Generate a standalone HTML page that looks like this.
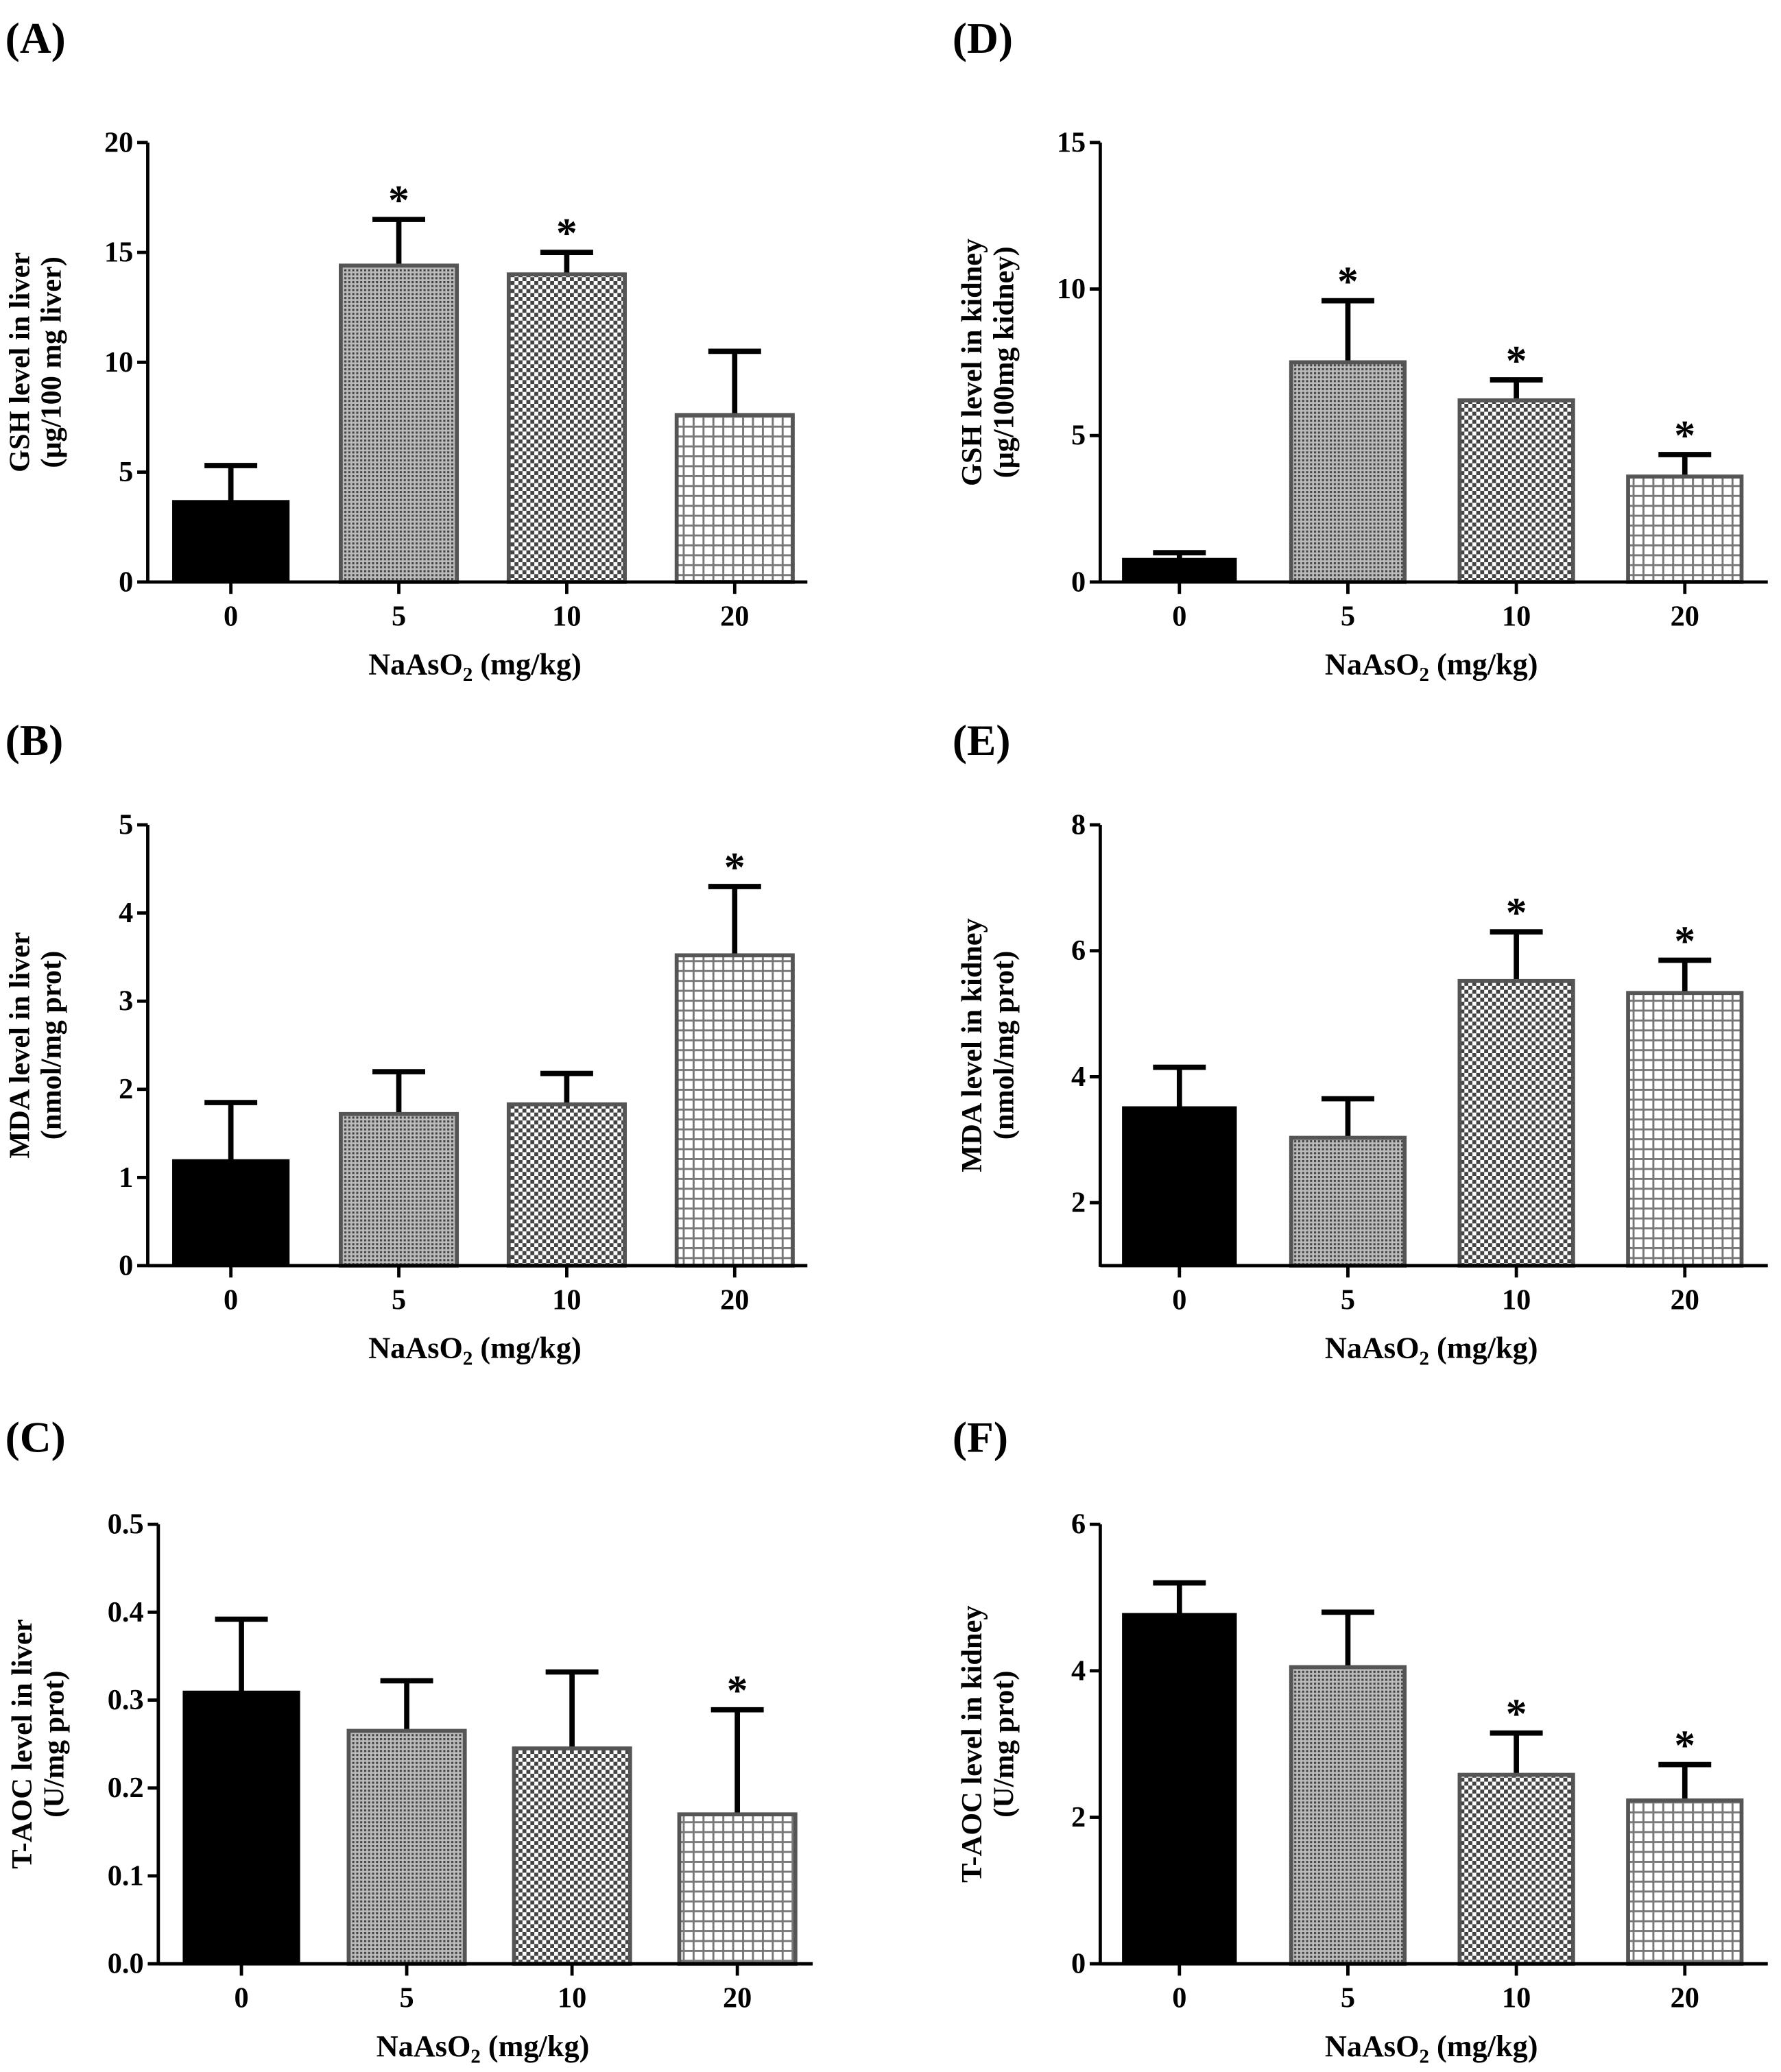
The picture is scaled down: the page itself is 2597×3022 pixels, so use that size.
<!DOCTYPE html>
<html><head><meta charset="utf-8"><style>
html,body{margin:0;padding:0;background:#fff}
svg{display:block}
text{font-family:"Liberation Serif",serif;font-weight:bold;fill:#000}
</style></head><body>
<svg id="fig" width="2597" height="3022" viewBox="0 0 1350 1570" preserveAspectRatio="none" xmlns="http://www.w3.org/2000/svg">
<defs>
<pattern id="p5" width="3" height="3" patternUnits="userSpaceOnUse"><rect width="3" height="3" fill="#bbb"/><rect width="1.6" height="1.6" fill="#444"/></pattern>
<pattern id="p10" width="6" height="6" patternUnits="userSpaceOnUse"><rect width="6" height="6" fill="#fff"/><rect width="3" height="3" fill="#444"/><rect x="3" y="3" width="3" height="3" fill="#444"/></pattern>
<pattern id="p20" width="7.5" height="7.5" patternUnits="userSpaceOnUse"><rect width="7.5" height="7.5" fill="#fff"/><rect width="1.5" height="7.5" fill="#777"/><rect width="7.5" height="1.5" fill="#777"/></pattern>
</defs>
</svg>
<script>
const categories = ["0","5","10","20"];
const fills = ["#000","url(#p5)","url(#p10)","url(#p20)"];
const valuesA = [3.7,14.4,14.0,7.6];
const errTopA = [5.3,16.5,15.0,10.5];
const starsA = [false,true,true,false];
const ticksA = [0,5,10,15,20];
const valuesB = [1.2,1.72,1.83,3.52];
const errTopB = [1.85,2.2,2.18,4.3];
const starsB = [false,false,false,true];
const ticksB = [0,1,2,3,4,5];
const valuesC = [0.31,0.265,0.245,0.17];
const errTopC = [0.392,0.322,0.332,0.289];
const starsC = [false,false,false,true];
const ticksC = ["0.0","0.1","0.2","0.3","0.4","0.5"];
const valuesD = [0.8,7.5,6.2,3.6];
const errTopD = [1.0,9.6,6.9,4.35];
const starsD = [false,true,true,true];
const ticksD = [0,5,10,15];
const valuesE = [3.52,3.03,5.52,5.33];
const errTopE = [4.15,3.65,6.3,5.85];
const starsE = [false,false,true,true];
const ticksE = [2,4,6,8];
const valuesF = [4.78,4.05,2.58,2.23];
const errTopF = [5.2,4.8,3.15,2.72];
const starsF = [false,false,true,true];
const ticksF = [0,2,4,6];

const NS="http://www.w3.org/2000/svg";
const svg=document.getElementById('fig');
function mk(tag,attrs,parent){const e=document.createElementNS(NS,tag);for(const k in attrs)e.setAttribute(k,attrs[k]);(parent||svg).appendChild(e);return e;}

const panels=[
 {id:'a',label:'(A)',ax:112,ly:28,top:108,bot:441,min:0,max:20,vals:valuesA,err:errTopA,stars:starsA,ticks:ticksA,cx0:175,step:127.3,bw:88,xr:612,yl:["GSH level in liver","(μg/100 mg liver)"],ylx:22},
 {id:'b',label:'(B)',ax:112,ly:560,top:625,bot:959,min:0,max:5,vals:valuesB,err:errTopB,stars:starsB,ticks:ticksB,cx0:175,step:127.3,bw:88,xr:612,yl:["MDA level in liver","(nmol/mg prot)"],ylx:22},
 {id:'c',label:'(C)',ax:120,ly:1088,top:1155,bot:1488,min:0,max:0.5,vals:valuesC,err:errTopC,stars:starsC,ticks:ticksC,cx0:183,step:125.3,bw:88,xr:616,yl:["T-AOC level in liver","(U/mg prot)"],ylx:24},
 {id:'d',label:'(D)',ax:834,ly:28,top:108,bot:441,min:0,max:15,vals:valuesD,err:errTopD,stars:starsD,ticks:ticksD,cx0:894,step:127.7,bw:86,xr:1340,yl:["GSH level in kidney","(μg/100mg kidney)"],ylx:744},
 {id:'e',label:'(E)',ax:834,ly:560,top:625,bot:959,min:1,max:8,vals:valuesE,err:errTopE,stars:starsE,ticks:ticksE,cx0:894,step:127.7,bw:86,xr:1340,yl:["MDA level in kidney","(nmol/mg prot)"],ylx:744},
 {id:'f',label:'(F)',ax:834,ly:1088,top:1155,bot:1488,min:0,max:6,vals:valuesF,err:errTopF,stars:starsF,ticks:ticksF,cx0:894,step:127.7,bw:86,xr:1340,yl:["T-AOC level in kidney","(U/mg prot)"],ylx:744}
];

panels.forEach(p=>{
  const g=mk('g',{});
  
  
  const y=v=>p.bot-(parseFloat(v)-p.min)/(p.max-p.min)*(p.bot-p.top);
  const lab=mk('text',{x:p.ax>500?722:4,y:p.ly+12,'font-size':33},g);
  lab.textContent=p.label;
  
  
  p.vals.forEach((v,i)=>{
    const cx=p.cx0+i*p.step;
    const yv=y(v), ye=y(p.err[i]);
    const eb=mk('line',{x1:cx,x2:cx,y1:yv,y2:ye,stroke:'#000','stroke-width':4},g);
    
    
    const cap=mk('line',{x1:cx-20,x2:cx+20,y1:ye,y2:ye,stroke:'#000','stroke-width':4},g);
    
    
    const r=mk('rect',{x:cx-p.bw/2,y:yv,width:p.bw,height:p.bot-yv,fill:fills[i],stroke:i==0?'#000':'#555','stroke-width':i==0?1:3},g);
    
    
    if(p.stars[i]){
      const s=mk('text',{x:cx,y:ye-4,'font-size':32,'text-anchor':'middle'},g);
      s.textContent='*';
      
      
    }
    mk('line',{x1:cx,x2:cx,y1:p.bot,y2:p.bot+9,stroke:'#000','stroke-width':2.5},g);
    const t=mk('text',{x:cx,y:p.bot+33,'font-size':22,'text-anchor':'middle'},g);
    t.textContent=categories[i];
    
    
  });
  const ya=mk('line',{x1:p.ax,x2:p.ax,y1:p.top,y2:p.bot+1,stroke:'#000','stroke-width':2.5},g);
  
  
  const xa=mk('line',{x1:p.ax,x2:p.xr,y1:p.bot,y2:p.bot,stroke:'#000','stroke-width':2.5},g);
  
  
  p.ticks.forEach(tv=>{
    const ty=y(tv);
    mk('line',{x1:p.ax-8,x2:p.ax,y1:ty,y2:ty,stroke:'#000','stroke-width':2.5},g);
    const t=mk('text',{x:p.ax-11,y:ty+7,'font-size':22,'text-anchor':'end'},g);
    t.textContent=tv;
    
    
  });
  const xt=mk('text',{x:(p.ax+p.xr)/2-2,y:p.bot+70,'font-size':23,'text-anchor':'middle'},g);
  xt.innerHTML='NaAsO<tspan font-size="15" dy="5">2</tspan><tspan dy="-5"> (mg/kg)</tspan>';
  
  
  const cy=(p.top+p.bot)/2;
  p.yl.forEach((line,k)=>{
    const lx=p.ylx+k*24;
    const t=mk('text',{x:lx,y:cy,'font-size':22,'text-anchor':'middle',transform:`rotate(-90 ${lx} ${cy})`},g);
    t.textContent=line;
    
    
  });
});
</script>
</body></html>
